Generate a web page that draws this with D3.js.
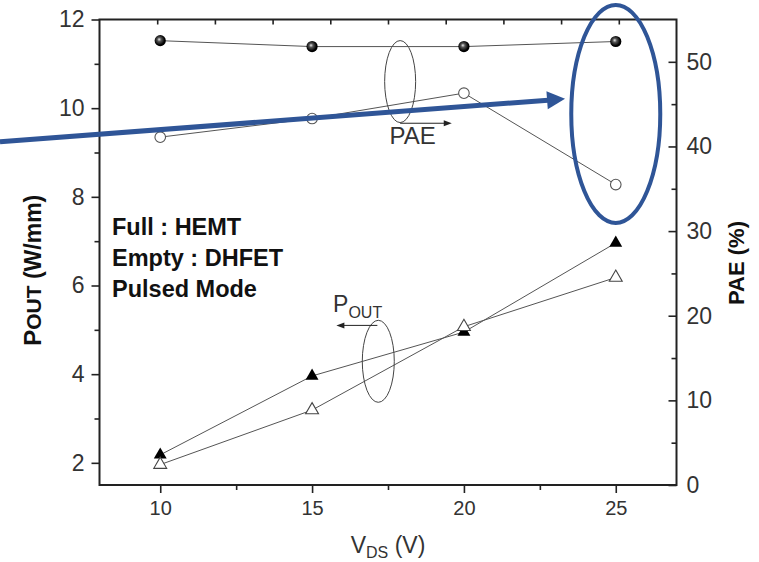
<!DOCTYPE html>
<html><head><meta charset="utf-8">
<script src="https://cdn.jsdelivr.net/npm/d3@7"></script>
<style>body{margin:0;background:#fff}svg{display:block}text{font-family:"Liberation Sans",Arial,sans-serif}</style>
</head><body><svg id="c" width="759" height="562"></svg>
<script>
// ---- data ----
const vds = [10, 15, 20, 25];
const paeHEMT = [52.5, 51.8, 51.8, 52.4];
const paeDHFET = [41.1, 43.3, 46.3, 35.5];
const poutHEMT = [2.18, 3.96, 4.95, 6.96];
const poutDHFET = [1.96, 3.19, 5.07, 6.18];
const xTicks = [10, 15, 20, 25];
const xMinor = [12.5, 17.5, 22.5];
const yLeftTicks = [2, 4, 6, 8, 10, 12];
const yLeftMinor = [3, 5, 7, 9, 11];
const yRightTicks = [0, 10, 20, 30, 40, 50];
const yRightMinor = [5, 15, 25, 35, 45];
const topTicks = [1, 2, 3, 4, 5, 6, 7, 8, 9];
const notes = ["Full : HEMT", "Empty : DHFET", "Pulsed Mode"];

// ---- layout ----
const L = 99.5, T = 19.5, R = 676.5, B = 485;
const svg = d3.select("#c");
const x = d3.scaleLinear().domain([8, 27]).range([L, R]);
const yL = d3.scaleLinear().domain([1.5, 12]).range([B, T]);
const yR = d3.scaleLinear().domain([0, 55]).range([B, T]);
const xTop = d3.scaleLinear().domain([0, 10]).range([L, R]);

const defs = svg.append("defs");
const g = defs.append("radialGradient").attr("id", "sph").attr("cx", "0.45").attr("cy", "0.45").attr("r", "0.6").attr("fx", "0.4").attr("fy", "0.38");
g.append("stop").attr("offset", "0").attr("stop-color", "#e8e8e8");
g.append("stop").attr("offset", "0.3").attr("stop-color", "#555");
g.append("stop").attr("offset", "0.75").attr("stop-color", "#000");
g.append("stop").attr("offset", "1").attr("stop-color", "#000");

function styleAxis(sel, fs) {
  sel.select(".domain").remove();
  sel.selectAll(".tick line").attr("stroke", "#222").attr("stroke-width", 1.6);
  sel.selectAll(".tick text").attr("fill", "#333").style("font-size", fs + "px").style("font-family", '"Liberation Sans",Arial,sans-serif');
}
// bottom
svg.append("g").attr("transform", `translate(0,${B})`)
  .call(d3.axisBottom(x).tickValues(xTicks).tickSize(8).tickPadding(8).tickFormat(d3.format("d")))
  .call(s => styleAxis(s, 20));
svg.append("g").attr("transform", `translate(0,${B})`)
  .call(d3.axisBottom(x).tickValues(xMinor).tickSize(5).tickFormat(""))
  .call(s => styleAxis(s, 20));
// top (inward)
svg.append("g").attr("transform", `translate(0,${T})`)
  .call(d3.axisTop(xTop).tickValues(topTicks).tickSize(-5).tickFormat(""))
  .call(s => styleAxis(s, 20));
// left
svg.append("g").attr("transform", `translate(${L},0)`)
  .call(d3.axisLeft(yL).tickValues(yLeftTicks).tickSize(8).tickPadding(7).tickFormat(d3.format("d")))
  .call(s => styleAxis(s, 23));
svg.append("g").attr("transform", `translate(${L},0)`)
  .call(d3.axisLeft(yL).tickValues(yLeftMinor).tickSize(5).tickFormat(""))
  .call(s => styleAxis(s, 23));
// right (inward ticks)
svg.append("g").attr("transform", `translate(${R},0)`)
  .call(d3.axisRight(yR).tickValues(yRightTicks).tickSize(-8).tickPadding(10).tickFormat(d3.format("d")))
  .call(s => styleAxis(s, 23));
svg.append("g").attr("transform", `translate(${R},0)`)
  .call(d3.axisRight(yR).tickValues(yRightMinor).tickSize(-5).tickFormat(""))
  .call(s => styleAxis(s, 23));
// frame
svg.append("rect").attr("x", L).attr("y", T).attr("width", R - L).attr("height", B - T)
  .attr("fill", "none").attr("stroke", "#222").attr("stroke-width", 2);

// ---- series ----
const lineL = d3.line().x(d => x(d[0])).y(d => yL(d[1]));
const lineR = d3.line().x(d => x(d[0])).y(d => yR(d[1]));
const zip = (a, b) => a.map((v, i) => [v, b[i]]);
const plot = svg.append("g");
plot.append("path").attr("d", lineR(zip(vds, paeHEMT))).attr("fill", "none").attr("stroke", "#555").attr("stroke-width", 1);
plot.append("path").attr("d", lineR(zip(vds, paeDHFET))).attr("fill", "none").attr("stroke", "#555").attr("stroke-width", 1);
plot.append("path").attr("d", lineL(zip(vds, poutHEMT))).attr("fill", "none").attr("stroke", "#555").attr("stroke-width", 1);
plot.append("path").attr("d", lineL(zip(vds, poutDHFET))).attr("fill", "none").attr("stroke", "#555").attr("stroke-width", 1);

const tri = d3.symbol(d3.symbolTriangle, 72);
plot.selectAll(".th").data(zip(vds, poutHEMT)).join("path")
  .attr("transform", d => `translate(${x(d[0])},${yL(d[1])})`).attr("d", tri).attr("fill", "#000");
plot.selectAll(".td").data(zip(vds, poutDHFET)).join("path")
  .attr("transform", d => `translate(${x(d[0])},${yL(d[1])})`).attr("d", tri).attr("fill", "#fff").attr("stroke", "#444").attr("stroke-width", 1.1);
plot.selectAll(".ch").data(zip(vds, paeHEMT)).join("circle")
  .attr("cx", d => x(d[0])).attr("cy", d => yR(d[1])).attr("r", 5.6).attr("fill", "url(#sph)");
plot.selectAll(".cd").data(zip(vds, paeDHFET)).join("circle")
  .attr("cx", d => x(d[0])).attr("cy", d => yR(d[1])).attr("r", 5.3).attr("fill", "#fff").attr("stroke", "#555").attr("stroke-width", 1.1);

// ---- annotations ----
const ann = svg.append("g");
const grey = "#444";
function arrow(x1, y1, x2, y2, w, hl, hw, col) {
  const a = Math.atan2(y2 - y1, x2 - x1);
  const bx = x2 - hl * Math.cos(a), by = y2 - hl * Math.sin(a);
  ann.append("line").attr("x1", x1).attr("y1", y1).attr("x2", bx + Math.cos(a)).attr("y2", by + Math.sin(a))
    .attr("stroke", col).attr("stroke-width", w);
  const px = -Math.sin(a) * hw, py = Math.cos(a) * hw;
  ann.append("path").attr("d", `M${x2},${y2}L${bx + px},${by + py}L${bx - px},${by - py}Z`).attr("fill", col);
}
// PAE group ellipse + arrow
ann.append("ellipse").attr("cx", x(17.9)).attr("cy", yL(10.6)).attr("rx", 15.5).attr("ry", 41)
  .attr("fill", "none").attr("stroke", grey).attr("stroke-width", 1);
arrow(x(17.9), yL(9.66), x(19.6), yL(9.66), 1, 8, 3, "#222");
ann.append("text").attr("x", x(17.55)).attr("y", yL(9.2)).attr("font-size", 24).attr("fill", "#333").text("PAE");

// POUT group ellipse + arrow
ann.append("ellipse").attr("cx", x(17.18)).attr("cy", yL(4.29)).attr("rx", 16).attr("ry", 41)
  .attr("fill", "none").attr("stroke", grey).attr("stroke-width", 1);
arrow(x(17.15), yL(5.1), x(15.8), yL(5.1), 1, 8, 3, "#222");
const pt = ann.append("text").attr("x", x(15.69)).attr("y", yL(5.4)).attr("fill", "#333");
pt.append("tspan").attr("font-size", 23).text("P");
pt.append("tspan").attr("font-size", 16).attr("dy", 6).text("OUT");

// notes
ann.selectAll(".note").data(notes).join("text")
  .attr("x", 112).attr("y", (d, i) => 235 + i * 31)
  .attr("font-size", 23.5).attr("font-weight", "bold").attr("fill", "#111").text(d => d);

// blue highlight
const blue = "#2f5597";
ann.append("ellipse").attr("cx", x(25)).attr("cy", yL(9.87)).attr("rx", 44.5).attr("ry", 109)
  .attr("fill", "none").attr("stroke", blue).attr("stroke-width", 4);
arrow(0, yL(9.24), x(23.33), yL(10.21), 5, 18, 9, blue);

// ---- titles ----
const yt = svg.append("text").attr("transform", `translate(41,${(T + B) / 2 + 18}) rotate(-90)`)
  .attr("text-anchor", "middle").attr("font-weight", "bold").attr("fill", "#111");
yt.append("tspan").attr("font-size", 24).text("P");
yt.append("tspan").attr("font-size", 21).text("OUT");
yt.append("tspan").attr("font-size", 23).text(" (W/mm)");

svg.append("text").attr("transform", `translate(744,263) rotate(-90)`)
  .attr("text-anchor", "middle").attr("font-weight", "bold").attr("font-size", 22).attr("fill", "#111").text("PAE (%)");

const xt = svg.append("text").attr("x", (L + R) / 2).attr("y", 553).attr("text-anchor", "middle").attr("fill", "#333");
xt.append("tspan").attr("font-size", 23).text("V");
xt.append("tspan").attr("font-size", 16).attr("dy", 5).text("DS");
xt.append("tspan").attr("font-size", 23).attr("dy", -5).text(" (V)");
</script></body></html>
